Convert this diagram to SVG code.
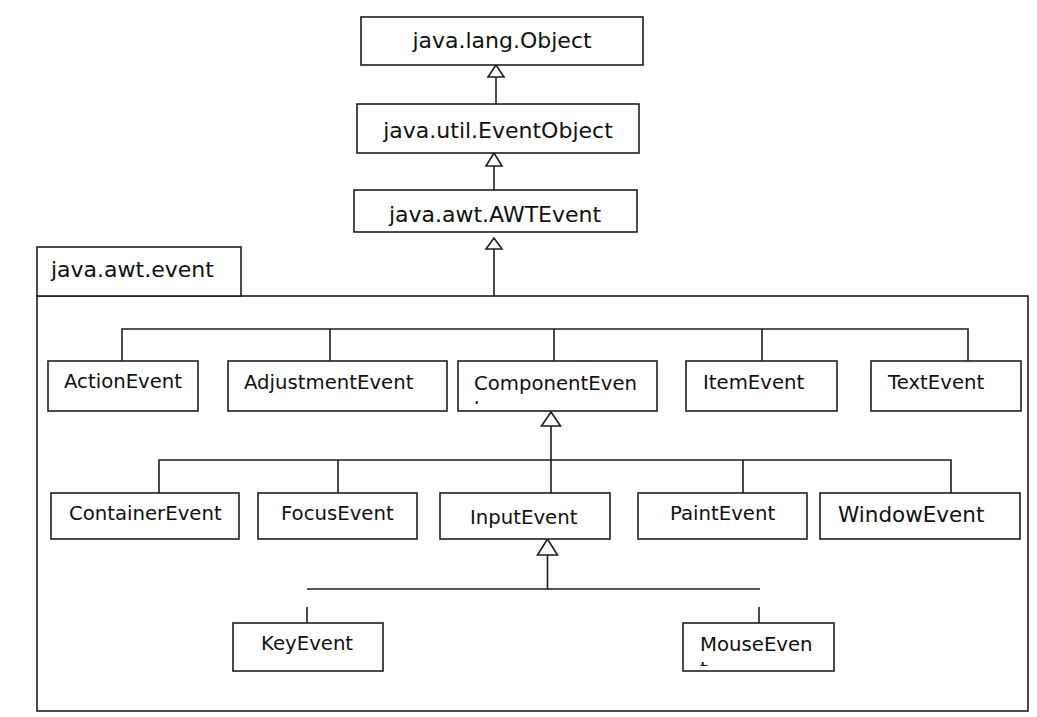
<svg xmlns="http://www.w3.org/2000/svg" width="1037" height="717" viewBox="0 0 1037 717">
<style>
.box{fill:#fff;stroke:#1e1e1e;stroke-width:1.6}
.ln{fill:none;stroke:#1e1e1e;stroke-width:1.6}
.tri{fill:#fff;stroke:#1e1e1e;stroke-width:1.6;stroke-linejoin:miter}
.t{font-family:"DejaVu Sans","Verdana",sans-serif;fill:#111}
.big{font-size:22px}
.sm{font-size:19.7px}
</style>
<defs>
<clipPath id="clipComp"><rect x="458" y="399" width="199" height="5"/></clipPath>
<clipPath id="clipMouse"><rect x="683" y="658" width="151" height="8"/></clipPath>
</defs>
<rect width="1037" height="717" fill="#fff"/>

<g id="package">
<rect class="box" x="37" y="296" width="991" height="415"/>
<rect class="box" x="37" y="247" width="204" height="49"/>
<text class="t big" x="51" y="277">java.awt.event</text>
</g>

<g id="connectors">
<polygon class="tri" points="496,65 488,77 504,77"/>
<line class="ln" x1="496" y1="77" x2="496" y2="104"/>
<polygon class="tri" points="494,153 486,166 502,166"/>
<line class="ln" x1="494" y1="166" x2="494" y2="190"/>
<polygon class="tri" points="494,238 486,249 502,249"/>
<line class="ln" x1="494" y1="249" x2="494" y2="296"/>

<path class="ln" d="M122,361 V329 H968 V361 M330,329 V361 M554,329 V361 M762,329 V361"/>

<polygon class="tri" points="551,412 541.5,426 560.5,426"/>
<line class="ln" x1="551" y1="426" x2="551" y2="493"/>
<path class="ln" d="M159,493 V460 H951 V493 M338,460 V493 M743,460 V493"/>

<polygon class="tri" points="547.5,539 537.5,555 557.5,555"/>
<line class="ln" x1="547.5" y1="555" x2="547.5" y2="589"/>
<line class="ln" x1="307" y1="589" x2="760" y2="589"/>
<line class="ln" x1="307" y1="607" x2="307" y2="623"/>
<line class="ln" x1="759" y1="607" x2="759" y2="623"/>
</g>

<g id="Object">
<rect class="box" x="361" y="17" width="282" height="48"/>
<text class="t big" x="502" y="48" text-anchor="middle">java.lang.Object</text>
</g>
<g id="EventObject">
<rect class="box" x="357" y="104" width="282" height="49"/>
<text class="t big" x="498" y="138" text-anchor="middle">java.util.EventObject</text>
</g>
<g id="AWTEvent">
<rect class="box" x="354" y="190" width="283" height="42"/>
<text class="t big" x="495" y="222" text-anchor="middle">java.awt.AWTEvent</text>
</g>

<g id="ActionEvent">
<rect class="box" x="48" y="361" width="150" height="50"/>
<text class="t sm" x="64" y="388">ActionEvent</text>
</g>
<g id="AdjustmentEvent">
<rect class="box" x="228" y="361" width="219" height="50"/>
<text class="t sm" x="244" y="389">AdjustmentEvent</text>
</g>
<g id="ComponentEvent">
<rect class="box" x="458" y="361" width="199" height="50"/>
<text class="t sm" x="474" y="390">ComponentEven</text>
<text class="t sm" x="474" y="415" clip-path="url(#clipComp)">t</text>
</g>
<g id="ItemEvent">
<rect class="box" x="686" y="361" width="151" height="50"/>
<text class="t sm" x="703" y="389">ItemEvent</text>
</g>
<g id="TextEvent">
<rect class="box" x="871" y="361" width="150" height="50"/>
<text class="t sm" x="888" y="389">TextEvent</text>
</g>

<g id="ContainerEvent">
<rect class="box" x="51" y="493" width="188" height="46"/>
<text class="t sm" x="69" y="520">ContainerEvent</text>
</g>
<g id="FocusEvent">
<rect class="box" x="258" y="493" width="159" height="46"/>
<text class="t sm" x="281" y="520">FocusEvent</text>
</g>
<g id="InputEvent">
<rect class="box" x="440" y="493" width="170" height="46"/>
<text class="t sm" x="470" y="524">InputEvent</text>
</g>
<g id="PaintEvent">
<rect class="box" x="638" y="493" width="169" height="46"/>
<text class="t sm" x="670" y="520">PaintEvent</text>
</g>
<g id="WindowEvent">
<rect class="box" x="820" y="493" width="200" height="46"/>
<text class="t" style="font-size:21.5px" x="838" y="522">WindowEvent</text>
</g>

<g id="KeyEvent">
<rect class="box" x="233" y="623" width="150" height="48"/>
<text class="t sm" x="261" y="650">KeyEvent</text>
</g>
<g id="MouseEvent">
<rect class="box" x="683" y="623" width="151" height="48"/>
<text class="t sm" x="700" y="651">MouseEven</text>
<text class="t sm" x="700" y="675.5" clip-path="url(#clipMouse)">t</text>
</g>
</svg>
